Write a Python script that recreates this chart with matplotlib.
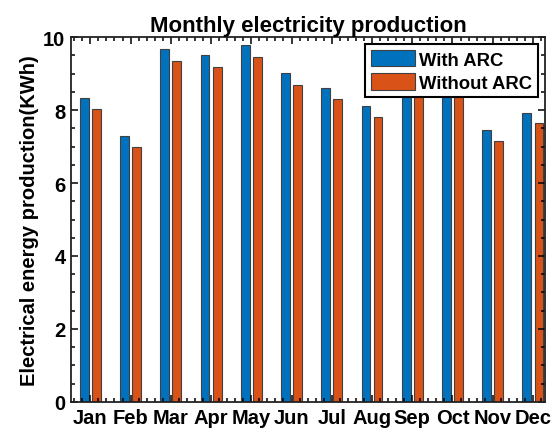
import matplotlib
matplotlib.use("Agg")
import matplotlib.pyplot as plt
import numpy as np
from matplotlib.ticker import MultipleLocator

months = ["Jan", "Feb", "Mar", "Apr", "May", "Jun", "Jul", "Aug", "Sep", "Oct", "Nov", "Dec"]
with_arc = [8.33, 7.29, 9.67, 9.50, 9.78, 9.01, 8.60, 8.10, 9.20, 9.00, 7.45, 7.92]
without_arc = [8.03, 6.99, 9.34, 9.18, 9.45, 8.68, 8.30, 7.80, 8.90, 8.70, 7.15, 7.64]

plt.rcParams['font.family'] = ['Liberation Sans', 'DejaVu Sans']
plt.rcParams['font.weight'] = 'bold'

fig = plt.figure(figsize=(5.55, 4.35), dpi=100)
ax = fig.add_axes([0.128, 0.0736, 0.854, 0.839])

x = np.arange(1, len(months) + 1)
w = 0.22
off = 0.15
ax.bar(x - off, with_arc, w, color="#0072BD", edgecolor="#404040", linewidth=0.8, label="With ARC")
ax.bar(x + off, without_arc, w, color="#D95319", edgecolor="#404040", linewidth=0.8, label="Without ARC")

ax.set_xlim(0.52, 12.3)
ax.set_ylim(0, 10)
ax.set_xticks(x)
ax.set_xticklabels(months)
ax.set_yticks([0, 2, 4, 6, 8, 10])
ax.xaxis.set_minor_locator(MultipleLocator(0.2))
ax.yaxis.set_minor_locator(MultipleLocator(0.5))
ax.tick_params(axis='both', which='both', direction='in', top=True, right=True, width=1.1)
ax.tick_params(axis='both', which='major', length=5, labelsize=14.5, pad=4)
ax.tick_params(axis='both', which='minor', length=3)
for s in ax.spines.values():
    s.set_linewidth(1.3)
    s.set_color('#222222')

ax.set_title("Monthly electricity production", fontsize=16, fontweight='bold', pad=4)
ax.set_ylabel("Electrical energy production(KWh)", fontsize=14.5, fontweight='bold', labelpad=3)

leg = ax.legend(loc='upper right', fontsize=13.3, frameon=True, fancybox=False,
                edgecolor='black', handlelength=2.4, handleheight=1.0,
                borderpad=0.3, labelspacing=0.25, handletextpad=0.2,
                borderaxespad=0.4)
leg.get_frame().set_linewidth(1.5)
leg.get_frame().set_alpha(1)
for t in leg.get_texts():
    t.set_fontweight('bold')

fig.savefig("out.png", dpi=100)
